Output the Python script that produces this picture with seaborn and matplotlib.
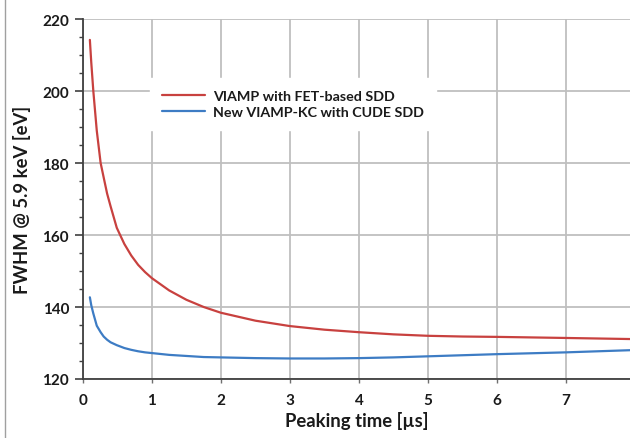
import matplotlib
matplotlib.use('Agg')
import matplotlib.pyplot as plt
from matplotlib.lines import Line2D
from matplotlib.ticker import MultipleLocator
import pandas as pd
import seaborn as sns

# values
peaking_time = [0.1, 0.12, 0.15, 0.2, 0.256, 0.3, 0.35, 0.4, 0.49, 0.6, 0.7, 0.8,
                0.9, 1.0, 1.25, 1.5, 1.75, 2.0, 2.5, 3.0, 3.5, 4.0, 4.5, 5.0,
                5.5, 6.0, 7.0, 7.93]
fwhm_fet = [214.2, 208.0, 200.0, 189.0, 180.0, 176.0, 171.5, 168.0, 162.0, 157.5,
            154.3, 151.7, 149.7, 148.0, 144.6, 142.0, 140.0, 138.4, 136.2, 134.7,
            133.7, 133.0, 132.4, 132.0, 131.8, 131.7, 131.4, 131.1]
fwhm_cude = [142.7, 140.5, 138.2, 134.8, 133.0, 131.8, 130.9, 130.2, 129.4, 128.6,
             128.1, 127.7, 127.4, 127.2, 126.7, 126.4, 126.1, 126.0, 125.8, 125.7,
             125.7, 125.8, 126.0, 126.3, 126.6, 126.9, 127.4, 128.0]
series_names = ['VIAMP with FET-based SDD', 'New VIAMP-KC with CUDE SDD']

df = pd.concat([
    pd.DataFrame({'t': peaking_time, 'fwhm': fwhm_fet, 'series': series_names[0]}),
    pd.DataFrame({'t': peaking_time, 'fwhm': fwhm_cude, 'series': series_names[1]}),
])

sns.set_style('white')
plt.rcParams['font.family'] = ['Lato', 'DejaVu Sans']
plt.rcParams['font.weight'] = 'bold'

fig = plt.figure(figsize=(6.3, 4.39), dpi=100)
ax = fig.add_axes([0.1317, 0.1344, 0.8683, 0.82])

sns.lineplot(data=df, x='t', y='fwhm', hue='series', hue_order=series_names,
             palette=['#C8413F', '#3D7CC4'], linewidth=1.6, ax=ax)

ax.set_xlim(0, 7.93)
ax.set_ylim(120, 220)
ax.xaxis.set_major_locator(MultipleLocator(1))
ax.yaxis.set_major_locator(MultipleLocator(20))
ax.yaxis.set_minor_locator(MultipleLocator(5))
ax.grid(True, which='major', color='#BFBFBF', linewidth=1.3)
ax.set_axisbelow(True)

for s in ['top', 'right']:
    ax.spines[s].set_visible(False)
for s in ['left', 'bottom']:
    ax.spines[s].set_color('#404040')
    ax.spines[s].set_linewidth(1.3)

ax.tick_params(axis='y', which='major', length=6, width=1.2, color='#404040',
               labelsize=11, pad=4, left=True, labelcolor='#1a1a1a')
ax.tick_params(axis='y', which='minor', length=3, width=1, color='#404040', left=True)
ax.tick_params(axis='x', length=3, width=1, color='#707070', bottom=True,
               labelsize=11, pad=7, labelcolor='#1a1a1a')
for lbl in ax.get_xticklabels() + ax.get_yticklabels():
    lbl.set_fontweight('bold')

ax.set_xlabel('Peaking time [µs]', fontsize=13.3, fontweight='bold', color='#1a1a1a', labelpad=3)
ax.set_ylabel('FWHM @ 5.9 keV [eV]', fontsize=13.3, fontweight='bold', color='#1a1a1a', labelpad=8)

leg = ax.legend(loc='upper left', bbox_to_anchor=(0.11, 0.855), frameon=True,
                fancybox=False, edgecolor='white', facecolor='white', framealpha=1,
                handlelength=3.0, handletextpad=0.6, labelspacing=0.3,
                prop={'size': 10.3, 'weight': 'bold'}, borderpad=0.8)
for t in leg.get_texts():
    t.set_color('#1a1a1a')

fig.add_artist(Line2D([0.008, 0.008], [0, 1], transform=fig.transFigure,
                      color='#A0A0A0', linewidth=1))

fig.savefig('out.png', dpi=100)
